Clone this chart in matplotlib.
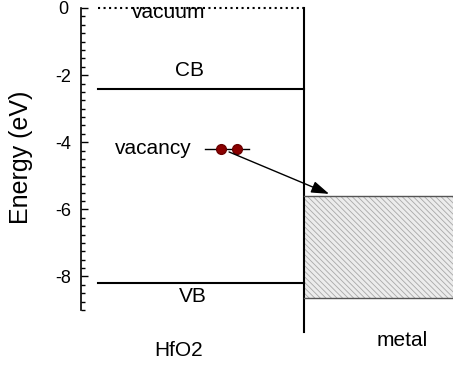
import matplotlib.pyplot as plt
from matplotlib.ticker import MultipleLocator

plt.rcParams['font.family'] = ['Liberation Sans', 'DejaVu Sans']
plt.rcParams['axes.unicode_minus'] = False

# band levels (eV)
vacuum = 0.0
cb = -2.4
vb = -8.2
vacancy = -4.2
metal_top = -5.6
metal_bottom = -8.63

# horizontal layout: oxide 0..0.6, metal 0.6..1
x_ox = [0.046, 0.6]
x_interface = 0.6
vac_line = [0.333, 0.452]
vac_dots = [0.376, 0.419]
arrow_start = (0.398, -4.29)
arrow_end = (0.667, -5.54)

fig = plt.figure(figsize=(4.53, 3.67), dpi=100)
ax = fig.add_axes([81 / 453, 1 - 310 / 367, 372 / 453, 302 / 367])
ax.set_xlim(0, 1)
ax.set_ylim(-9, 0)

for s in ['top', 'right', 'bottom']:
    ax.spines[s].set_visible(False)
ax.spines['left'].set_linewidth(1.2)
ax.set_xticks([])
ax.yaxis.set_major_locator(MultipleLocator(2))
ax.yaxis.set_minor_locator(MultipleLocator(0.25))
ax.tick_params(axis='y', which='major', direction='in', length=5, width=1, labelsize=13, pad=13)
ax.tick_params(axis='y', which='minor', direction='in', length=3, width=1)
for lab in ax.get_yticklabels():
    lab.set_horizontalalignment('center')
ax.set_ylabel('Energy (eV)', fontsize=18)
ax.yaxis.set_label_coords(-0.129, 0.507)

# vacuum level and band edges
ax.plot(x_ox, [vacuum, vacuum], ls=':', color='black', lw=1.5, clip_on=False)
ax.plot(x_ox, [cb, cb], color='black', lw=1.5)
ax.plot(x_ox, [vb, vb], color='black', lw=1.5)
ax.plot([x_interface, x_interface], [vacuum, -9.67], color='black', lw=1.5, clip_on=False)

# metal band (hatched)
plt.rcParams['hatch.linewidth'] = 0.6
ax.fill_between([x_interface, 1.0], metal_bottom, metal_top, facecolor='#ececec',
                edgecolor='#a8a8a8', hatch='\\\\\\\\\\\\', lw=0)
ax.plot([x_interface, 1.0], [metal_top, metal_top], color='#555555', lw=1)
ax.plot([x_interface, 1.0], [metal_bottom, metal_bottom], color='#555555', lw=1)

# vacancy level
ax.plot(vac_line, [vacancy, vacancy], color='black', lw=1)
ax.plot(vac_dots, [vacancy, vacancy], 'o', color='#8b0000', ms=7, mec='#6b0000')
ax.annotate('', xy=arrow_end, xytext=arrow_start,
            arrowprops=dict(arrowstyle='-|>,head_length=0.6,head_width=0.2', color='black',
                            lw=1, mutation_scale=18, shrinkA=0, shrinkB=0))

ax.text(0.235, -0.12, 'vacuum', fontsize=15, ha='center', va='center', clip_on=False)
ax.text(0.293, -1.85, 'CB', fontsize=15, ha='center', va='center')
ax.text(0.301, -8.6, 'VB', fontsize=15, ha='center', va='center')
ax.text(0.195, vacancy, 'vacancy', fontsize=15, ha='center', va='center')
ax.text(0.263, -10.22, 'HfO2', fontsize=15, ha='center', va='center', clip_on=False)
ax.text(0.863, -9.9, 'metal', fontsize=15, ha='center', va='center', clip_on=False)

fig.savefig('out.png', dpi=100)
